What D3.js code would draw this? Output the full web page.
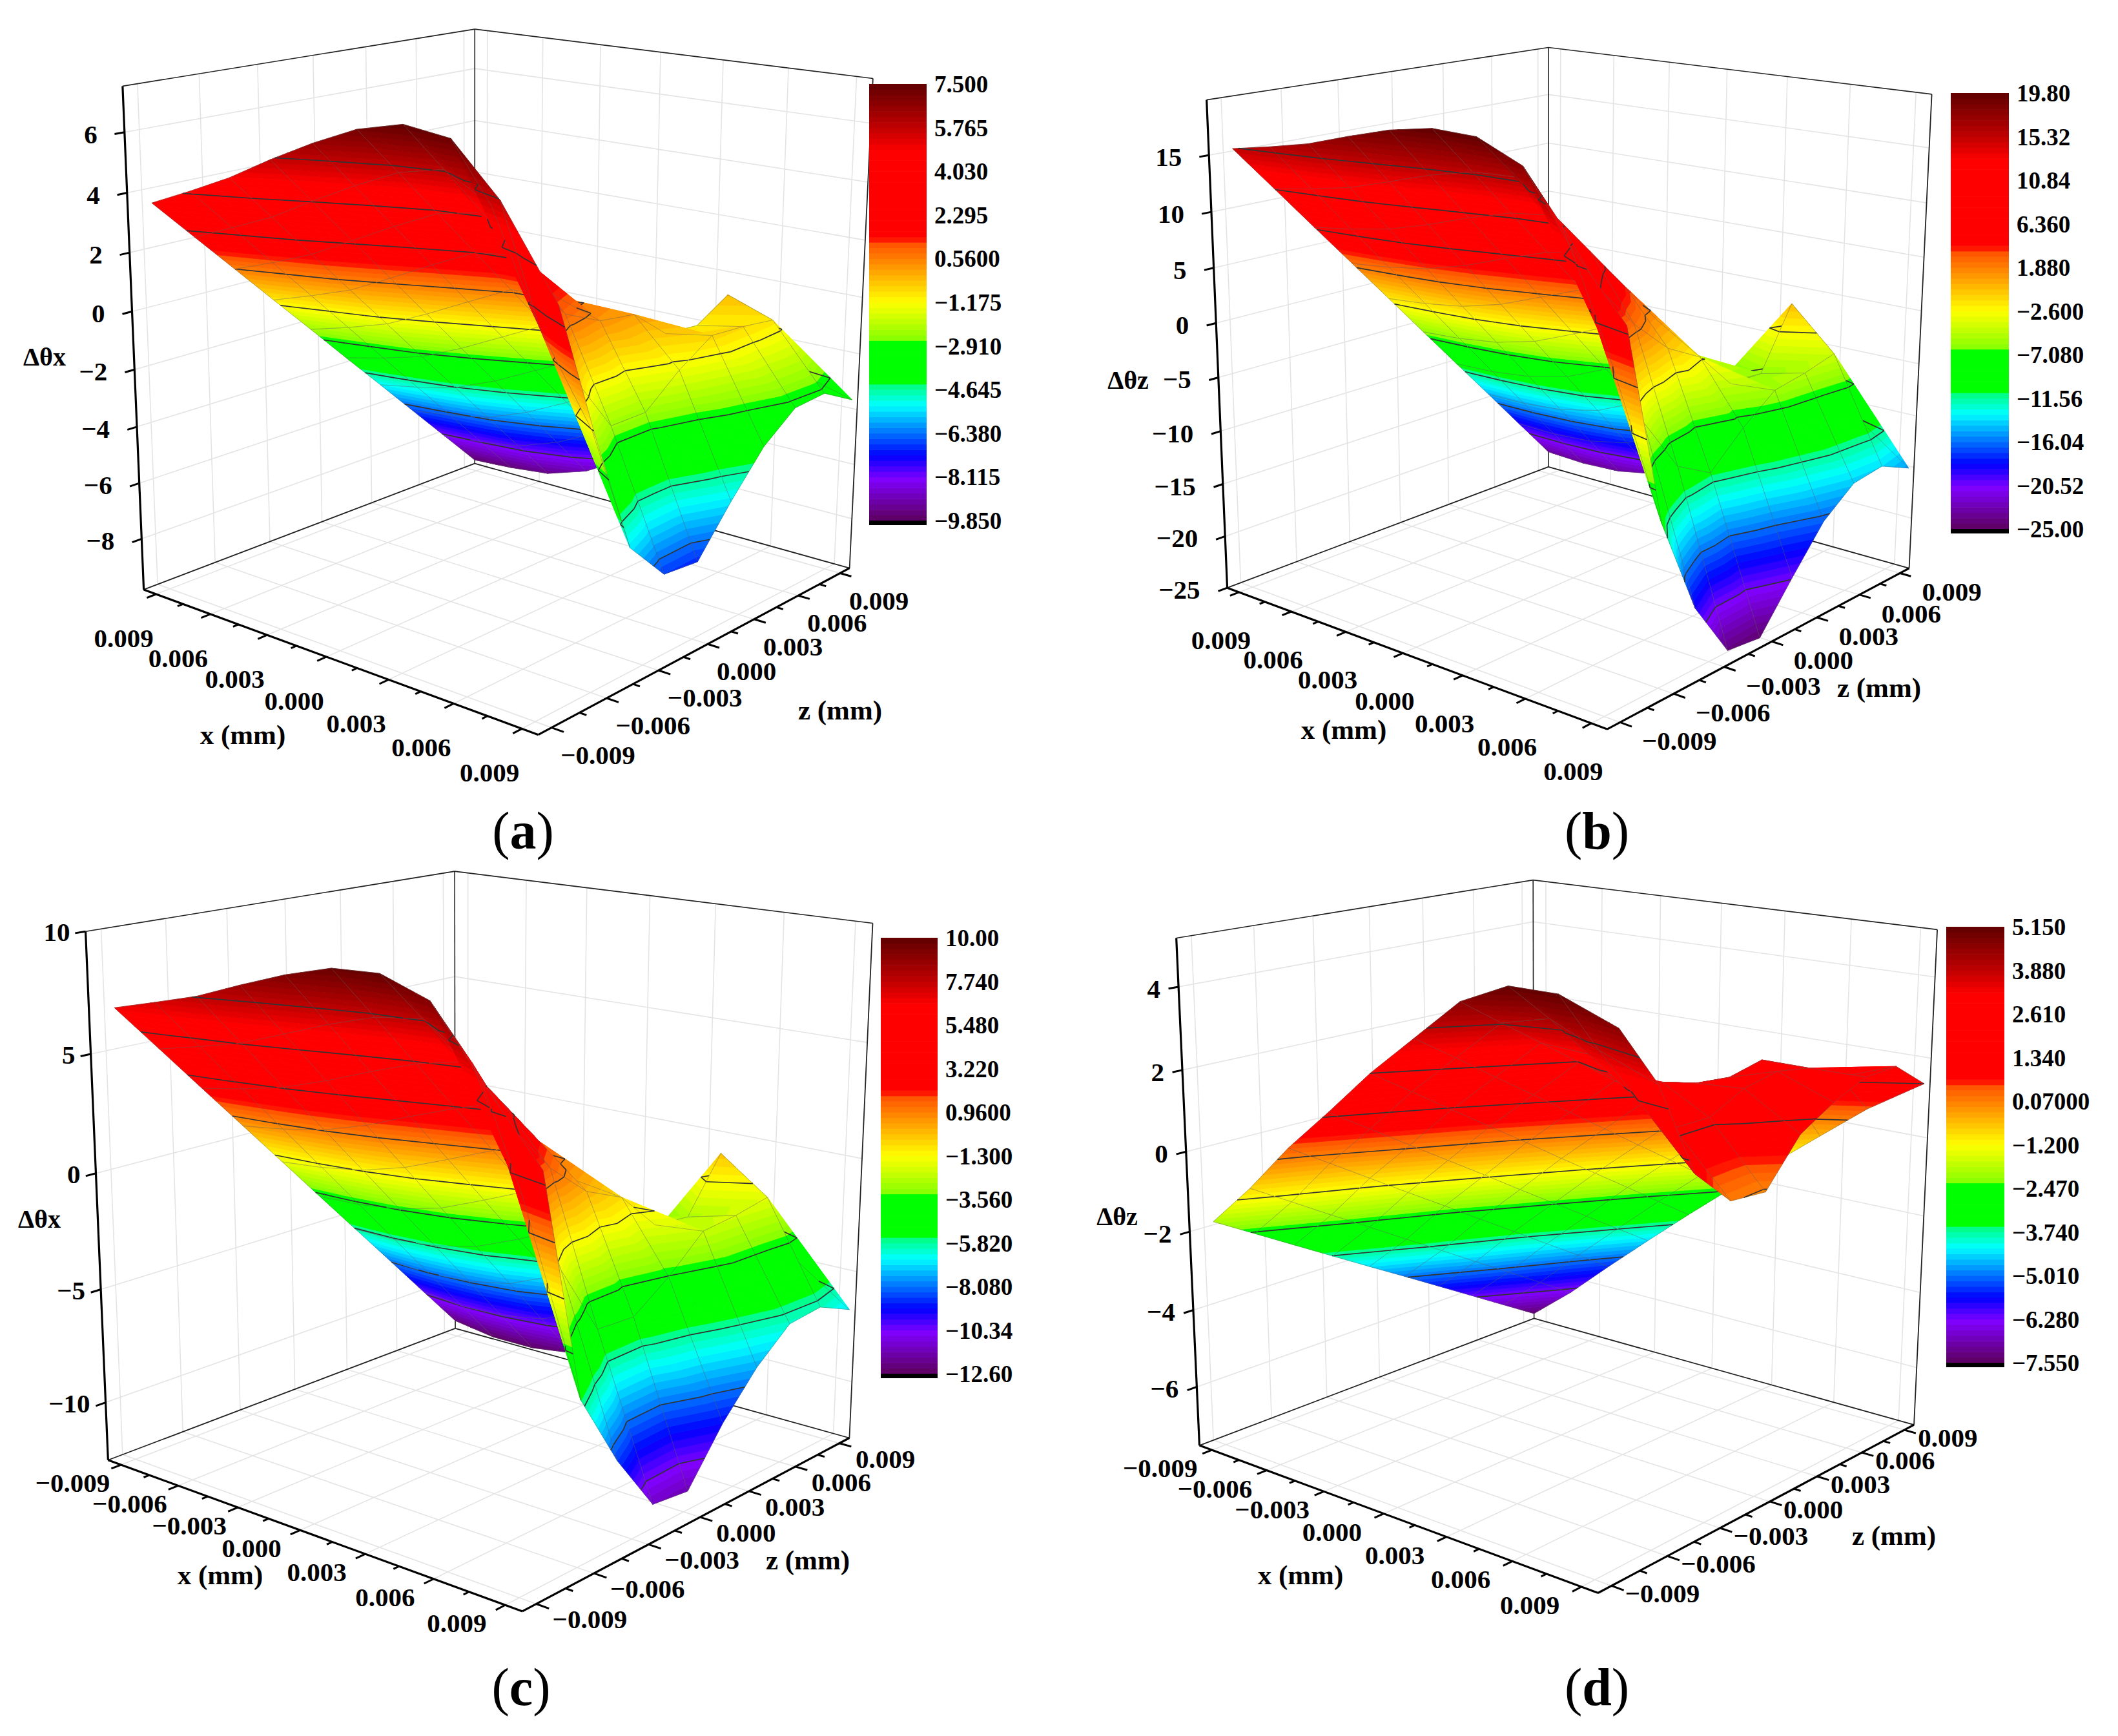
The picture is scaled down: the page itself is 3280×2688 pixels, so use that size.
<!DOCTYPE html>
<html><head><meta charset="utf-8"><style>html,body{margin:0;background:#fff}svg{display:block}text{font-family:"Liberation Serif","Times New Roman",serif;font-weight:bold;fill:#000}</style>
<script src="https://cdnjs.cloudflare.com/ajax/libs/d3/7.8.5/d3.min.js"></script></head><body>
<script>
const xGrid=[-0.0097,-0.00761,-0.00552,-0.00343,-0.00134,0.00075,0.00284,0.00493,0.00702,0.00945];
const zGrid=[-0.00854,-0.00651,-0.00449,-0.00246,-0.00043,0.00159,0.00362,0.00565,0.00767,0.0097];
const tickVals=[-0.009,-0.0075,-0.006,-0.0045,-0.003,-0.0015,0,0.0015,0.003,0.0045,0.006,0.0075,0.009];
const majorTicks=[-0.009,-0.006,-0.003,0,0.003,0.006,0.009];
// surface values: each inner list is one x position, running through z
const gridA=[
[3.49,2.02,.56,-.91,-2.37,-3.84,-5.3,-6.77,-8.23,-9.7],
[4.15,2.62,1.09,-.43,-1.96,-3.49,-5.02,-6.54,-8.07,-9.6],
[4.85,3.26,1.68,.09,-1.49,-3.08,-4.66,-6.25,-7.83,-9.42],
[5.68,4.06,2.44,.82,-.8,-2.42,-4.04,-5.66,-7.28,-8.9],
[6.44,4.82,3.2,1.58,-.04,-1.66,-3.28,-4.9,-6.5,-8.0],
[7.1,5.5,3.9,2.3,.7,-.9,-2.5,-4.1,-5.7,-7.2],
[7.48,5.85,4.2,2.5,.8,-.8,-2.4,-4,-5,-5.8],
[7.29,5.0,2.5,.9,.3,.14,-.9,-1.0,-.28,-3.5],
[5.73,1.6,-.5,-2.4,-2.4,-1.4,-.62,-.7,-.85,-3.15],
[3.0,-1.4,-5.4,-6.82,-6.95,-5.4,-4.0,-3.11,-3.03,-3.69]];
const gridB=[
[15.2,10.92,6.64,2.37,-1.91,-6.19,-10.47,-14.74,-19.02,-23.3],
[15.95,11.57,7.18,2.8,-1.58,-5.97,-10.35,-14.73,-19.12,-23.5],
[16.8,12.34,7.89,3.43,-1.02,-5.47,-9.92,-14.38,-18.84,-23.3],
[18,13.5,9,4.5,0,-4.5,-9,-13.5,-18,-22.5],
[19.1,14.7,10.3,5.9,1.5,-2.9,-7.3,-11.7,-16.1,-20.5],
[19.8,15.6,11.4,7.2,3,-1.2,-5.4,-9.6,-13.8,-18],
[19.7,15.8,11.9,8,4.1,.1,-3.9,-8,-12,-15.5],
[18,12.5,6.5,2.5,-.6,-2.4,-5.9,-6,-.3,-12],
[12.4,3,-4,-9,-10.8,-7.9,-5.55,-5,-4.2,-11.6],
[7.1,-10.1,-18.8,-24.1,-24.5,-20.4,-16.5,-14.2,-13.8,-15.2]];
const gridC=[
[6.7,4.6,2.5,.4,-1.7,-3.8,-5.9,-8,-10.1,-12.2],
[7.24,5.05,2.85,.66,-1.53,-3.73,-5.92,-8.11,-10.31,-12.5],
[7.8,5.54,3.29,1.03,-1.22,-3.48,-5.73,-7.99,-10.24,-12.5],
[8.55,6.25,3.94,1.63,-.67,-2.98,-5.28,-7.59,-9.89,-12.2],
[9.25,6.97,4.68,2.4,.11,-2.17,-4.46,-6.74,-9.02,-11.3],
[9.8,7.58,5.36,3.13,.91,-1.31,-3.53,-5.76,-7.98,-10.2],
[9.9,7.85,5.8,3.75,1.7,-.4,-2.5,-4.5,-6.5,-8.3],
[9.2,6.5,3.6,1.5,.05,-.7,-2.4,-2.58,-.26,-5.8],
[6.6,1.8,-1.6,-4.6,-4.7,-3.6,-2.2,-2.05,-1.77,-5.07],
[3.8,-5.5,-8.65,-11.2,-11.4,-9.2,-7.46,-6.2,-6.06,-6.77]];
const gridD=[
[-1.92,-2.53,-3.14,-3.75,-4.36,-4.96,-5.57,-6.18,-6.79,-7.4],
[-.82,-1.45,-2.08,-2.7,-3.33,-3.95,-4.58,-5.2,-5.83,-6.46],
[.41,-.23,-.88,-1.53,-2.17,-2.82,-3.46,-4.11,-4.75,-5.4],
[1.49,.84,.19,-.46,-1.11,-1.77,-2.42,-3.07,-3.72,-4.37],
[2.61,1.95,1.28,.62,-.04,-.71,-1.37,-2.03,-2.7,-3.36],
[3.6,2.94,2.27,1.61,.94,.28,-.39,-1.05,-1.72,-2.38],
[4.59,3.92,3.26,2.59,1.92,1.25,.58,-.09,-.75,-1.42],
[5.1,4.2,3.2,2.33,2.1,1.84,1.75,1.95,.85,-.48],
[5.1,3.7,2.4,1.49,1.48,1.92,2.1,1.95,1.5,.45],
[4.6,3.2,.99,.1,.02,1.1,1.6,1.97,2.0,1.34]];
const barLabelsA=["7.500","5.765","4.030","2.295","0.5600","−1.175","−2.910","−4.645","−6.380","−8.115","−9.850"];
const barLabelsB=["19.80","15.32","10.84","6.360","1.880","−2.600","−7.080","−11.56","−16.04","−20.52","−25.00"];
const barLabelsC=["10.00","7.740","5.480","3.220","0.9600","−1.300","−3.560","−5.820","−8.080","−10.34","−12.60"];
const barLabelsD=["5.150","3.880","2.610","1.340","0.07000","−1.200","−2.470","−3.740","−5.010","−6.280","−7.550"];
const xLabelsPlain=["0.009","0.006","0.003","0.000","0.003","0.006","0.009"];
const xLabelsSigned=["−0.009","−0.006","−0.003","0.000","0.003","0.006","0.009"];
const zLabels=["−0.009","−0.006","−0.003","0.000","0.003","0.006","0.009"];
const yTicksA=[-8,-6,-4,-2,0,2,4,6];
const yTicksB=[-25,-20,-15,-10,-5,0,5,10,15];
const yTicksC=[-10,-5,0,5,10];
const yTicksD=[-6,-4,-2,0,2,4];

const LEVELS=80;
const colorStops=[0,.096,.149,.265,.311,.3111,.41,.4101,.5,.633,.648,.846,.9,.95,1];
const colorVals=["#5c005c","#8000ff","#0000ff","#00ffff","#00ff80","#00ff00","#00ff00","#80ff00","#ffff00","#ff5500","#ff0000","#ff0000","#c00000","#900000","#600000"];
const cmap=d3.scaleLinear().domain(colorStops).range(colorVals).interpolate(d3.interpolateRgb).clamp(true);
const levelColor=l=>cmap((l+.5)/LEVELS);

const panels=[
{grid:gridA,vmin:-9.85,vmax:7.5,yTicks:yTicksA,bar:barLabelsA,xl:xLabelsPlain,ttl:"Δθx",tag:"a",
 c:{L0:[223,913],L1:[190,133],B0:[735,718],B1:[735,45],R0:[1316,879],R1:[1352,122],F0:[833,1138]},
 barBox:[1346,1435,130,806],ylOff:-42,xlOff:[-50,82],zlOff:[14,56],ylDy:17,ttlPos:[69,566],xtPos:[376,1152],ztPos:[1301,1114],tagPos:[810,1314]},
{grid:gridB,vmin:-25,vmax:19.8,yTicks:yTicksB,bar:barLabelsB,xl:xLabelsPlain,ttl:"Δθz",tag:"b",
 c:{L0:[1901,909],L1:[1868,155],B0:[2397,724],B1:[2399,73],R0:[2957,879],R1:[2991,146],F0:[2489,1130]},
 barBox:[3021,3111,144,819],ylOff:-42,xlOff:[-28,88],zlOff:[34,43],ylDy:17,ttlPos:[1747,602],xtPos:[2081,1144],ztPos:[2910,1079],tagPos:[2473,1314]},
{grid:gridC,vmin:-12.6,vmax:10,yTicks:yTicksC,bar:barLabelsC,xl:xLabelsSigned,ttl:"Δθx",tag:"c",
 c:{L0:[167,2260],L1:[132,1443],B0:[705,2057],B1:[705,1349],R0:[1315,2227],R1:[1351,1429],F0:[810,2495]},
 barBox:[1364,1452,1452,2127],ylOff:-24,xlOff:[-75,42],zlOff:[25,38],ylDy:15,ttlPos:[61,1901],xtPos:[341,2453],ztPos:[1251,2430],tagPos:[807,2640]},
{grid:gridD,vmin:-7.55,vmax:5.15,yTicks:yTicksD,bar:barLabelsD,xl:xLabelsSigned,ttl:"Δθz",tag:"d",
 c:{L0:[1857,2232],L1:[1822,1454],B0:[2376,2048],B1:[2374,1360],R0:[2964,2200],R1:[3000,1441],F0:[2475,2472]},
 barBox:[3014,3104,1435,2110],ylOff:-28,xlOff:[-80,42],zlOff:[21,26],ylDy:17,ttlPos:[1730,1897],xtPos:[2014,2453],ztPos:[2933,2392],tagPos:[2473,2640]}
];

function solve(A,b){const n=b.length;A=A.map((r,i)=>[...r,b[i]]);
 for(let c=0;c<n;c++){let p=c;for(let r=c+1;r<n;r++)if(Math.abs(A[r][c])>Math.abs(A[p][c]))p=r;[A[c],A[p]]=[A[p],A[c]];
  for(let r=0;r<n;r++){if(r===c)continue;const f=A[r][c]/A[c][c];for(let k=c;k<=n;k++)A[r][k]-=f*A[c][k];}}
 return A.map((r,i)=>r[n]/r[i]);}
function fitCamera(c){
 const pts=[[0,0,0,c.L0],[0,1,0,c.L1],[0,0,1,c.B0],[0,1,1,c.B1],[1,0,1,c.R0],[1,1,1,c.R1],[1,0,0,c.F0]];
 const rows=[],rhs=[];
 pts.forEach(([a,b,d,s])=>{const X=s[0]/1000,Y=s[1]/1000;
  rows.push([a,b,d,1,0,0,0,0,-X*a,-X*b,-X*d]);rhs.push(X);
  rows.push([0,0,0,0,a,b,d,1,-Y*a,-Y*b,-Y*d]);rhs.push(Y);});
 const N=rows[0].map((_,i)=>rows[0].map((_,j)=>d3.sum(rows,r=>r[i]*r[j])));
 const v=rows[0].map((_,i)=>d3.sum(rows,(r,k)=>r[i]*rhs[k]));
 return solve(N,v);}

const svg=d3.select("body").append("svg").attr("width",3280).attr("height",2688).attr("viewBox","0 0 3280 2688");
svg.append("rect").attr("width",3280).attr("height",2688).attr("fill","#fff");
const pathOf=d3.line();

panels.forEach(P=>{
 const g=svg.append("g");
 const m=fitCamera(P.c);
 const xS=d3.scaleLinear().domain([-0.0097,0.0097]).range([0,1]);
 const zS=d3.scaleLinear().domain([-0.0097,0.0097]).range([0,1]);
 const vS=d3.scaleLinear().domain([P.vmin,P.vmax]).range([0,1]);
 const depth=(a,b,c)=>m[8]*a+m[9]*b+m[10]*c+1;
 const proj=(a,b,c)=>{const w=depth(a,b,c);return[1000*(m[0]*a+m[1]*b+m[2]*c+m[3])/w,1000*(m[4]*a+m[5]*b+m[6]*c+m[7])/w];};
 const pv=p=>proj(p.a,vS(p.v),p.c);
 const lerp=(p,q,t)=>({a:p.a+(q.a-p.a)*t,c:p.c+(q.c-p.c)*t,v:p.v+(q.v-p.v)*t});
 // walls and floor grid
 const gridLine=(A,B)=>g.append("path").attr("d",pathOf([A,B])).attr("fill","none").attr("stroke","#e4e4e4").attr("stroke-width",1.6);
 majorTicks.forEach(t=>{
  gridLine(proj(xS(t),0,0),proj(xS(t),0,1));
  gridLine(proj(0,0,zS(t)),proj(1,0,zS(t)));
  gridLine(proj(xS(t),0,1),proj(xS(t),1,1));
  gridLine(proj(0,0,zS(t)),proj(0,1,zS(t)));
 });
 P.yTicks.forEach(t=>{const b=vS(t);
  gridLine(proj(0,b,0),proj(0,b,1));gridLine(proj(0,b,1),proj(1,b,1));});
 // frame
 const frame=(A,B,w,col)=>g.append("path").attr("d",pathOf([A,B])).attr("fill","none").attr("stroke",col||"#222").attr("stroke-width",w);
 frame(proj(0,1,0),proj(0,1,1),1.6);frame(proj(0,1,1),proj(1,1,1),1.6);
 frame(proj(0,0,1),proj(0,1,1),1.6);frame(proj(1,0,1),proj(1,1,1),1.8);
 frame(proj(0,0,0),proj(0,0,1),1.8);frame(proj(0,0,1),proj(1,0,1),1.8);
 frame(proj(0,0,0),proj(0,1,0),3.2,"#000");frame(proj(0,0,0),proj(1,0,0),3.2,"#000");frame(proj(1,0,0),proj(1,0,1),3.2,"#000");
 // surface
 const step=(P.vmax-P.vmin)/LEVELS;
 const levelVals=P.bar.slice(1,-1).map((_,k)=>P.vmax-(k+1)*(P.vmax-P.vmin)/10);
 const node=(i,j)=>({a:xS(xGrid[i]),c:zS(zGrid[j]),v:P.grid[i][j]});
 const cells=[];
 for(let i=0;i<xGrid.length-1;i++)for(let j=0;j<zGrid.length-1;j++){
  const n=[node(i,j),node(i+1,j),node(i+1,j+1),node(i,j+1)];
  cells.push({n,d:d3.mean(n,q=>depth(q.a,vS(q.v),q.c))});
 }
 cells.sort((p,q)=>q.d-p.d);
 const clip=(poly,lv,keepAbove)=>{const out=[];for(let k=0;k<poly.length;k++){const p=poly[k],q=poly[(k+1)%poly.length];
   const pi=keepAbove?p.v>=lv:p.v<=lv,qi=keepAbove?q.v>=lv:q.v<=lv;
   if(pi)out.push(p);if(pi!==qi)out.push(lerp(p,q,(lv-p.v)/(q.v-p.v)));}return out;};
 const items=[];
 cells.forEach(cell=>{
  const [A,B,C,D]=cell.n;
  const tris=[[A,B,C],[A,C,D]].sort((s,t)=>d3.mean(t,q=>depth(q.a,vS(q.v),q.c))-d3.mean(s,q=>depth(q.a,vS(q.v),q.c)));
  tris.forEach(t=>{
   const lo=d3.min(t,q=>q.v),hi=d3.max(t,q=>q.v);
   const l0=Math.max(0,Math.floor((lo-P.vmin)/step)),l1=Math.min(LEVELS-1,Math.floor((hi-P.vmin)/step));
   for(let l=l0;l<=l1;l++){
    let poly=clip(t,P.vmin+l*step,true);if(poly.length>2)poly=clip(poly,P.vmin+(l+1)*step,false);
    if(poly.length>2){const col=levelColor(l);items.push({d:pathOf(poly.map(pv))+"Z",fill:col,stroke:col,sw:.9});}
   }
   levelVals.forEach(lv=>{const pts=[];
    for(let k=0;k<3;k++){const p=t[k],q=t[(k+1)%3];if((p.v-lv)*(q.v-lv)<0)pts.push(lerp(p,q,(lv-p.v)/(q.v-p.v)));}
    if(pts.length===2)t.contour=(t.contour||[]).concat([pts]);});
  });
  [[A,B],[B,C],[C,D],[D,A]].forEach(e=>items.push({d:pathOf(e.map(pv)),fill:"none",stroke:"rgba(95,95,95,.42)",sw:1}));
  tris.forEach(t=>(t.contour||[]).forEach(s=>items.push({d:pathOf(s.map(pv)),fill:"none",stroke:"#333",sw:1.7})));
 });
 g.append("g").selectAll("path").data(items).join("path").attr("d",d=>d.d).attr("fill",d=>d.fill).attr("stroke",d=>d.stroke).attr("stroke-width",d=>d.sw).attr("stroke-linejoin","round");
 // axis ticks
 const tick=(A,B,w)=>g.append("path").attr("d",pathOf([A,B])).attr("stroke","#000").attr("stroke-width",w||3).attr("fill","none");
 tickVals.forEach((t,k)=>{const maj=k%2===0,len=maj?.024:.014;
  tick(proj(xS(t),0,0),proj(xS(t),0,-len));
  tick(proj(1,0,zS(t)),proj(1+len*1.1,0,zS(t)));
 });
 majorTicks.forEach((t,k)=>{
  const a=proj(xS(t),0,0),b=proj(1,0,zS(t));
  g.append("text").attr("x",a[0]+P.xlOff[0]).attr("y",a[1]+P.xlOff[1]).attr("text-anchor","middle").attr("font-size",41).text(P.xl[k]);
  g.append("text").attr("x",b[0]+P.zlOff[0]).attr("y",b[1]+P.zlOff[1]).attr("font-size",41).text(zLabels[k]);
 });
 P.yTicks.forEach(t=>{const b=vS(t),a=proj(0,b,0),e=proj(0,b,-.024);
  tick(a,e);
  g.append("text").attr("x",a[0]+P.ylOff).attr("y",a[1]+P.ylDy).attr("text-anchor","end").attr("font-size",41).text(d3.format("d")(t).replace("-","−"));
 });
 g.append("text").attr("x",P.ttlPos[0]).attr("y",P.ttlPos[1]).attr("text-anchor","middle").attr("font-size",40).text(P.ttl);
 g.append("text").attr("x",P.xtPos[0]).attr("y",P.xtPos[1]).attr("text-anchor","middle").attr("font-size",43).text("x (mm)");
 g.append("text").attr("x",P.ztPos[0]).attr("y",P.ztPos[1]).attr("text-anchor","middle").attr("font-size",43).text("z (mm)");
 const tag=g.append("text").attr("x",P.tagPos[0]).attr("y",P.tagPos[1]).attr("text-anchor","middle").attr("font-size",82).style("font-weight","normal");
 tag.append("tspan").text("(");tag.append("tspan").style("font-weight","bold").text(P.tag);tag.append("tspan").text(")");
 // colour bar
 const [bx0,bx1,by0,by1]=P.barBox;
 const barY=d3.scaleLinear().domain([0,LEVELS]).range([by1,by0]);
 g.append("g").selectAll("rect").data(d3.range(LEVELS)).join("rect").attr("x",bx0).attr("width",bx1-bx0)
  .attr("y",l=>barY(l+1)).attr("height",l=>barY(l)-barY(l+1)+.6).attr("fill",levelColor);
 g.append("rect").attr("x",bx0).attr("width",bx1-bx0).attr("y",by1).attr("height",7).attr("fill","#000");
 const labY=d3.scaleLinear().domain([0,P.bar.length-1]).range([by0,by1]);
 P.bar.forEach((s,k)=>g.append("text").attr("x",bx1+12).attr("y",labY(k)+13).attr("font-size",37).text(s));
});
</script></body></html>
